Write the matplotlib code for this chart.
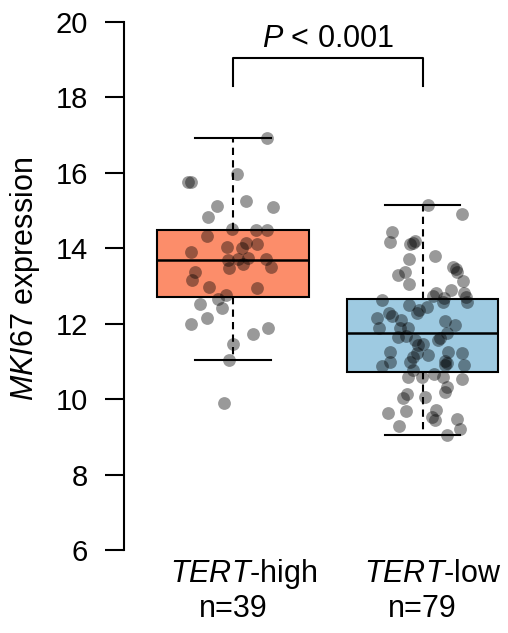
import numpy as np
import matplotlib
matplotlib.use("Agg")
import matplotlib.pyplot as plt
import matplotlib.transforms as mtransforms

plt.rcParams['font.family'] = ['Liberation Sans', 'DejaVu Sans']
plt.rcParams['mathtext.fontset'] = 'custom'
plt.rcParams['mathtext.rm'] = 'Liberation Sans'
plt.rcParams['mathtext.it'] = 'Liberation Sans:italic'

groups = [r"$\it{TERT}$-high", r"$\it{TERT}$-low"]
counts = ["n=39", "n=79"]
box_colors = ["#FC8D6A", "#9ECAE1"]

# box stats
q1 = [12.71, 10.72]
med = [13.68, 11.76]
q3 = [14.48, 12.65]
whislo = [11.03, 9.05]
whishi = [16.91, 15.14]

# points: value and horizontal jitter
high_vals = [16.91, 15.97, 15.74, 15.74, 15.26, 15.12, 15.10, 14.82, 14.50, 14.48,
             14.48, 14.32, 14.13, 14.10, 14.02, 13.99, 13.90, 13.75, 13.70, 13.68,
             13.70, 13.59, 13.50, 13.46, 13.37, 13.15, 12.97, 12.95, 12.75, 12.66,
             12.53, 12.41, 12.14, 12.00, 11.87, 11.73, 11.47, 11.03, 9.90]
high_jit = [0.178, 0.023, -0.239, -0.222, 0.067, -0.083, 0.209, -0.132, -0.004, 0.12,
            0.178, -0.137, 0.067, 0.128, -0.033, 0.046, -0.222, 0.081, 0.028, -0.025,
            0.174, 0.054, 0.2, -0.021, -0.2, -0.215, -0.125, 0.127, -0.037, -0.081,
            -0.174, -0.06, -0.137, -0.223, 0.186, 0.107, 0.0, -0.019, -0.046]

low_vals = [15.15, 14.91, 14.44, 14.16, 14.12, 14.18, 13.80, 13.71, 13.45, 13.38,
            13.29, 13.38, 13.14, 13.05, 12.89, 12.82, 12.81, 12.74, 12.67, 12.70,
            12.58, 12.63, 12.56, 12.48, 12.45, 12.36, 12.29, 12.28, 12.20, 12.14,
            12.10, 12.07, 11.95, 11.89, 11.89, 11.89, 11.74, 11.68, 11.65, 11.61,
            11.57, 11.57, 11.43, 11.46, 11.26, 11.24, 11.21, 11.21, 11.17, 11.12,
            10.99, 10.99, 10.95, 10.88, 10.90, 10.90, 10.77, 10.58, 10.59, 10.66,
            10.58, 10.52, 10.33, 10.19, 10.13, 10.04, 10.06, 9.62, 9.68, 9.71,
            9.53, 9.44, 9.46, 9.29, 9.20, 9.06, 13.51, 14.14, 11.01]
low_jit = [0.031, 0.207, -0.162, -0.171, -0.066, -0.04, 0.066, -0.07, 0.177, 0.183,
           -0.128, -0.092, 0.213, -0.073, 0.149, 0.219, 0.072, 0.057, 0.115, 0.231,
           0.234, -0.215, 0.11, -0.071, 0.025, -0.019, -0.028, -0.178, -0.16, -0.239,
           -0.113, 0.119, 0.172, -0.232, -0.119, -0.075, 0.128, -0.086, -0.127, 0.092,
           0.08, -0.04, -0.022, 0.001, -0.172, 0.136, 0.207, -0.027, 0.031, -0.052,
           -0.066, -0.172, 0.128, -0.212, 0.219, 0.119, -0.051, -0.075, -0.004, 0.06,
           0.107, 0.207, 0.128, 0.121, -0.083, -0.104, 0.013, -0.183, -0.086, 0.071,
           0.048, 0.066, 0.18, -0.122, 0.198, 0.13, 0.16, -0.05, 0.12]

fig = plt.figure(figsize=(5.08, 6.33), dpi=100)
ax = fig.add_axes([124 / 508, 83 / 633, 384 / 508, 528.3 / 633])

stats = []
for i in range(2):
    stats.append({'q1': q1[i], 'med': med[i], 'q3': q3[i],
                  'whislo': whislo[i], 'whishi': whishi[i], 'fliers': []})

bp = ax.bxp(stats, positions=[1, 2], widths=0.8, patch_artist=True,
            showfliers=False, capwidths=0.4,
            boxprops=dict(linewidth=1.5, edgecolor='black'),
            medianprops=dict(linewidth=1.8, color='black'),
            whiskerprops=dict(linewidth=1.5, color='black', linestyle=(0, (3.5, 2.5))),
            capprops=dict(linewidth=1.5, color='black'))
for patch, c in zip(bp['boxes'], box_colors):
    patch.set_facecolor(c)

ax.scatter(1 + np.array(high_jit), high_vals, s=85, color='black', alpha=0.4,
           linewidths=0, zorder=5)
ax.scatter(2 + np.array(low_jit), low_vals, s=85, color='black', alpha=0.4,
           linewidths=0, zorder=5)

ax.set_xlim(0.4248, 2.451)
ax.set_ylim(6, 20)
ax.set_yticks([6, 8, 10, 12, 14, 16, 18, 20])
ax.set_xticks([])
ax.tick_params(axis='y', labelsize=21, length=14, width=1.5, pad=12)
for s in ['top', 'right', 'bottom']:
    ax.spines[s].set_visible(False)
ax.spines['left'].set_linewidth(1.5)

# significance bracket
ax.plot([1, 1, 2, 2], [18.29, 19.03, 19.03, 18.29], color='black', lw=1.5,
        clip_on=False)
ax.text(1.5, 19.32, r"$\it{P}$ < 0.001", ha='center', va='baseline', fontsize=22)

trans = mtransforms.blended_transform_factory(ax.transData, fig.transFigure)
offsets = [0.058, 0.053]
for i in range(2):
    fig.text(i + 1 + offsets[i], 1 - 581.7 / 633, groups[i], transform=trans,
             ha='center', va='baseline', fontsize=22)
    fig.text(i + 1, 1 - 617 / 633, counts[i], transform=trans,
             ha='center', va='baseline', fontsize=22)

fig.text(25 / 508, 1 - 279 / 633, r"$\it{MKI67}$ expression", rotation=90,
         ha='center', va='center', fontsize=22)

fig.savefig("out.png", dpi=100)
